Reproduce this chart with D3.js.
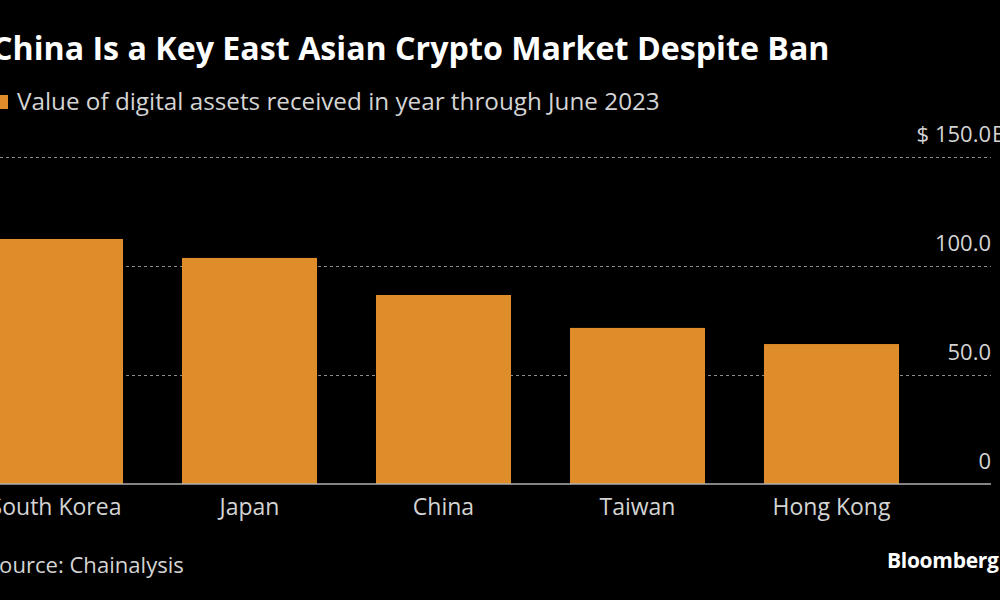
<!DOCTYPE html>
<html><head><meta charset="utf-8">
<script src="https://cdn.jsdelivr.net/npm/d3@7"></script>
<style>
html,body{margin:0;padding:0;background:#000;}
svg{display:block;}
text{font-family:"Open Sans","Noto Sans",sans-serif;}
</style></head>
<body>
<script>
const categories = ["South Korea","Japan","China","Taiwan","Hong Kong"];
const values = [112.4, 103.7, 86.7, 71.6, 64.2];
const yTicks = [0, 50, 100, 150];
const yTickLabels = ["0", "50.0", "100.0", "$ 150.0"];
const yTopUnit = "B";
const title = "China Is a Key East Asian Crypto Market Despite Ban";
const subtitle = "Value of digital assets received in year through June 2023";
const source = "Source: Chainalysis";
const brand = "Bloomberg";

const W = 1000, H = 600;
const svg = d3.select("body").append("svg").attr("width", W).attr("height", H);
svg.append("rect").attr("width", W).attr("height", H).attr("fill", "#000");

const x = d3.scaleBand().domain(categories).range([-41.5, 928.5]).paddingInner(0.304).paddingOuter(0.152);
const y = d3.scaleLinear().domain([0, 150]).range([484, 157]);

function fit(sel, targetW) {
  const w = sel.node().getComputedTextLength();
  const fs = parseFloat(sel.attr("font-size"));
  sel.attr("font-size", fs * targetW / w);
}

// gridlines
svg.append("g").selectAll("line").data(yTicks.filter(d => d > 0)).join("line")
  .attr("x1", 0).attr("x2", 991)
  .attr("y1", d => Math.round(y(d)) + 0.5).attr("y2", d => Math.round(y(d)) + 0.5)
  .attr("stroke", "#8a8a8a").attr("stroke-width", 1.2).attr("stroke-dasharray", "3,3");

// bars
svg.append("g").selectAll("rect").data(values).join("rect")
  .attr("x", (d, i) => x(categories[i]))
  .attr("width", x.bandwidth())
  .attr("y", d => y(d))
  .attr("height", d => y(0) - y(d))
  .attr("fill", "#df8c2a");

// baseline
svg.append("line").attr("x1", 0).attr("x2", 991).attr("y1", 484).attr("y2", 484)
  .attr("stroke", "#b0b0b0").attr("stroke-width", 1.5);

// y tick labels
const yl = svg.append("g");
yTicks.forEach((t, i) => {
  yl.append("text").attr("x", 991).attr("y", y(t) - 15)
    .attr("text-anchor", "end").attr("font-size", 22).attr("fill", "#d4d4d4")
    .text(yTickLabels[i]);
});
yl.append("text").attr("x", 992).attr("y", y(150) - 15)
  .attr("font-size", 22).attr("fill", "#d4d4d4").text(yTopUnit);

// x labels
svg.append("g").selectAll("text").data(categories).join("text")
  .attr("x", d => x(d) + x.bandwidth() / 2).attr("y", 515)
  .attr("text-anchor", "middle").attr("font-size", 23).attr("fill", "#d4d4d4")
  .text(d => d);

// title
const t = svg.append("text").attr("x", -8).attr("y", 60).attr("font-size", 28)
  .attr("font-weight", "bold").attr("fill", "#fff").text(title);
fit(t, 838);

// subtitle
svg.append("rect").attr("x", -6).attr("y", 95).attr("width", 14).attr("height", 14).attr("fill", "#df8c2a");
const st = svg.append("text").attr("x", 17).attr("y", 110).attr("font-size", 23)
  .attr("fill", "#d4d4d4").text(subtitle);
fit(st, 643);

// source
const so = svg.append("text").attr("x", -13).attr("y", 573).attr("font-size", 22)
  .attr("fill", "#d4d4d4").text(source);
fit(so, 197);

// brand
svg.append("text").attr("x", 887).attr("y", 568).attr("font-size", 21)
  .attr("font-weight", "bold").attr("fill", "#fff").attr("letter-spacing", -0.3).text(brand);
</script>
</body></html>
